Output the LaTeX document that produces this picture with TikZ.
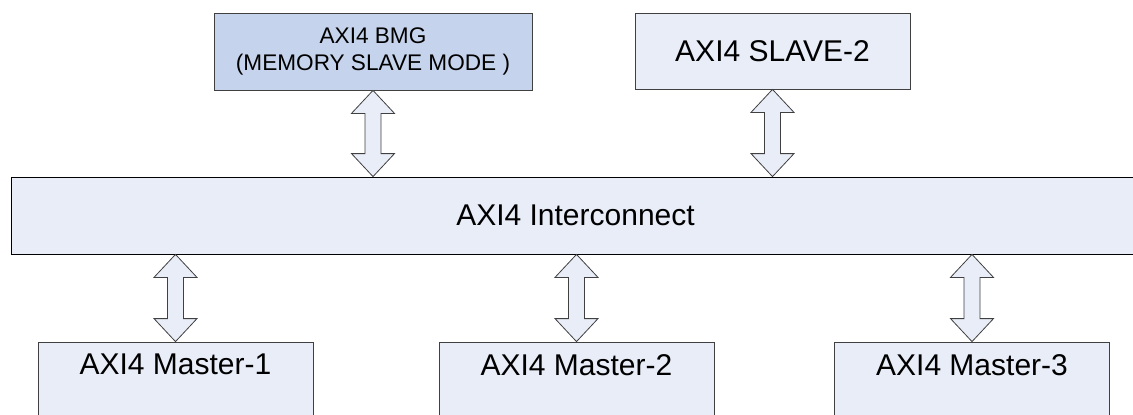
\documentclass[tikz,border=0pt]{standalone}
\usepackage{fontspec}
\setmainfont{Liberation Sans}
\usetikzlibrary{positioning,calc}
\definecolor{boxfill}{HTML}{E8EDF8}
\definecolor{bmgfill}{HTML}{C5D3EC}
\definecolor{boxline}{HTML}{404040}
\tikzset{font=\fontsize{30}{36}\selectfont}

% fat double arrow between two points on one vertical
\newcommand{\busarrow}[2]{%
	\draw[busline] let \p1=(#1), \p2=(#2) in
		(\x1,\y1) -- (\x1-21.5pt,\y1-23pt) -- (\x1-8pt,\y1-23pt) -- (\x1-8pt,\y2+23pt)
		-- (\x1-21.5pt,\y2+23pt) -- (\x1,\y2) -- (\x1+21.5pt,\y2+23pt) -- (\x1+8pt,\y2+23pt)
		-- (\x1+8pt,\y1-23pt) -- (\x1+21.5pt,\y1-23pt) -- cycle;}

\begin{document}
\begin{tikzpicture}[x=1pt, y=-1pt]
	\useasboundingbox (0,0) rectangle (1133,415);
	\clip (0,0) rectangle (1133,415);
	\tikzset{
		block/.style={draw=boxline, fill=boxfill, line width=0.8pt, inner sep=0pt, minimum height=77pt},
		master/.style={block, minimum width=275pt, minimum height=100pt},
		busline/.style={draw=boxline, fill=boxfill, line width=0.8pt, line join=miter},
		lbl/.style={inner sep=0pt}
	}
	% slaves
	\node[block, fill=bmgfill, minimum width=318pt, align=center,
		font=\fontsize{22.6}{27}\selectfont] (bmg) at (373, 51.5) {AXI4 BMG\\(MEMORY SLAVE MODE )};
	\node[block, minimum width=275pt, minimum height=76pt] (slave) at (772.5, 51) {AXI4 SLAVE-2};

	% interconnect
	\node[block, draw=black, minimum width=1129pt] (ic) at (575.5, 215.5) {};
	\node[lbl] at (ic) {AXI4 Interconnect};

	% masters
	\node[master] (m1) at (175.5, 392) {};
	\node[master] (m2) at (576.5, 392) {};
	\node[master] (m3) at (972, 392) {};
	\node[lbl, below=12.5pt of m1.north] {AXI4 Master-1};
	\node[lbl, below=12.5pt of m2.north] {AXI4 Master-2};
	\node[lbl, below=12.5pt of m3.north] {AXI4 Master-3};

	% bus arrows
	\busarrow{bmg.south}{ic.north -| bmg.south}
	\busarrow{slave.south}{ic.north -| slave.south}
	\busarrow{ic.south -| m1.north}{m1.north}
	\busarrow{ic.south -| m2.north}{m2.north}
	\busarrow{ic.south -| m3.north}{m3.north}
\end{tikzpicture}
\end{document}
